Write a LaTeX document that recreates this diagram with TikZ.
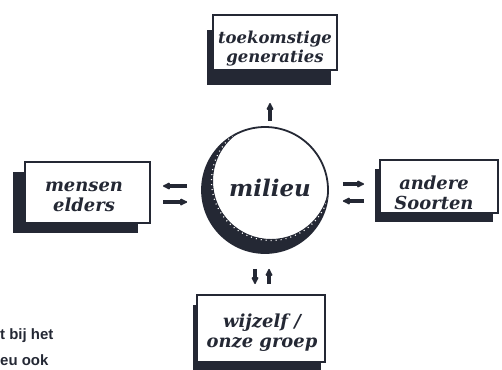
\documentclass[tikz,border=0pt]{standalone}
\usepackage{fontspec}
\setmainfont{DejaVu Serif}
\newfontfamily\notefont{Liberation Sans}
\usetikzlibrary{shadows,arrows.meta}
\definecolor{ink}{RGB}{36,40,52}

\begin{document}
\begin{tikzpicture}[x=1bp,y=-1bp,
  hand/.style={font=\fontsize{18}{20}\selectfont\bfseries\itshape, text=ink, align=center, inner sep=0pt},
  cardbox/.style={draw=ink, line width=2bp, fill=white, inner sep=0pt},
  shade/.style 2 args={drop shadow={shadow xshift=#1, shadow yshift=#2, fill=ink, opacity=1}},
  arr/.style={ink, line width=3.2bp, -{Latex[length=9bp,width=8.5bp,round]}},
  note/.style={font=\notefont\bfseries\fontsize{15}{17}\selectfont, text=ink, anchor=west, inner sep=0pt},
]
\useasboundingbox (0,0) rectangle (502,369);
\clip (0,0) rectangle (502,369);

% boxes with a heavy shadow on the lower left
\node[cardbox, shade={-6bp}{-15bp}, minimum width=124bp, minimum height=55bp] (top) at (275,42.5) {};
\node[cardbox, shade={-12bp}{-10bp}, minimum width=125bp, minimum height=61bp] (left) at (87.5,192.5) {};
\node[cardbox, shade={-5bp}{-9bp}, minimum width=118bp, minimum height=53bp] (right) at (439,186.5) {};
\node[cardbox, shade={-4bp}{-10bp}, minimum width=128bp, minimum height=67bp] (bot) at (261,328.5) {};

% box labels
\node[hand, font=\fontsize{16.5}{19}\selectfont\bfseries\itshape] (toptext) at (275,49) {toekomstige\\generaties};
\node[hand] (lefttext) at (84,197) {mensen\\elders};
\node[hand] (righttext) at (434,193) {andere\\Soorten};
\node[hand] (bottext) at (262,333) {wijzelf /\\onze groep};

% the environment as a shaded sphere
\node[circle, draw=ink, line width=1.8bp, minimum size=126bp, inner sep=0pt] (mil) at (265,190) {};
\begin{scope}
  \clip (mil.center) circle[radius=63bp];
  \fill[ink, even odd rule] (mil.center) circle[radius=64bp]
        ([shift={(6,-9)}]mil.center) circle[radius=58bp];
  \draw[white, line width=1.2bp, dash pattern=on 1bp off 4bp]
        ([shift={(6,-9)}]mil.center) circle[radius=59.5bp];
\end{scope}
\node[font=\fontsize{23}{25}\selectfont\bfseries\itshape, text=ink, inner sep=0pt] (miltext) at (270,188) {milieu};

% exchanges between the environment and the groups
\draw[arr, shorten <=5bp, shorten >=32bp, transform canvas={xshift=5bp}] (mil.north) -- (mil.north |- top.south);
\draw[arr, shorten <=14bp, shorten >=12bp, transform canvas={yshift=4bp}] (mil.west) -- (mil.west -| left.east);
\draw[arr, shorten <=12bp, shorten >=14bp, transform canvas={yshift=-12bp}] (mil.west -| left.east) -- (mil.west);
\draw[arr, shorten <=14bp, shorten >=15bp, transform canvas={yshift=6bp}] (mil.east) -- (mil.east -| right.west);
\draw[arr, shorten <=15bp, shorten >=14bp, transform canvas={yshift=-11bp}] (mil.east -| right.west) -- (mil.east);
\draw[arr, shorten <=15bp, shorten >=10bp, transform canvas={xshift=-10bp}] (mil.south) -- (mil.south |- bot.north);
\draw[arr, shorten <=10bp, shorten >=15bp, transform canvas={xshift=4bp}] (mil.south |- bot.north) -- (mil.south);

% caption fragments at the lower left
\node[note] (note1) at (0,336) {t bij het};
\node[note] (note2) at (0,360) {eu ook};
\end{tikzpicture}
\end{document}
